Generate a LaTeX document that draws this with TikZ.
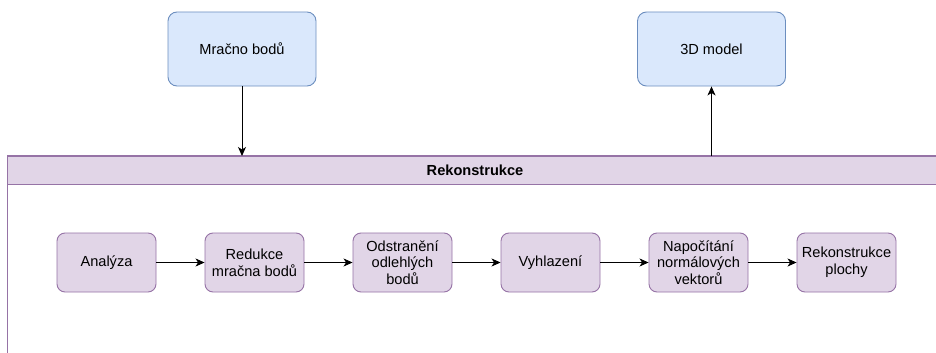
\documentclass[tikz,border=0pt]{standalone}
\usepackage{fontspec}
\setmainfont{Liberation Sans}
\usetikzlibrary{arrows.meta}
\definecolor{bluefill}{HTML}{DAE8FC}
\definecolor{bluedraw}{HTML}{6C8EBF}
\definecolor{purpfill}{HTML}{E1D5E7}
\definecolor{purpdraw}{HTML}{9673A6}
\tikzset{
  topbox/.style={draw=bluedraw, fill=bluefill, line width=0.9pt, rounded corners=9pt,
    minimum width=148pt, minimum height=74pt, inner sep=0pt, align=center,
    font=\fontsize{14.6}{16.8}\selectfont},
  stepbox/.style={draw=purpdraw, fill=purpfill, line width=0.9pt, rounded corners=8pt,
    minimum width=99pt, minimum height=59pt, inner sep=0pt, align=center,
    font=\fontsize{14.6}{16.6}\selectfont},
  conn/.style={line width=1pt, -{Stealth[length=9pt,width=8pt,inset=2.5pt]}},
}
\begin{document}
\begin{tikzpicture}[x=1pt,y=-1pt]
\useasboundingbox (0,0) rectangle (936,353);
\clip (0,0) rectangle (936,353);
% container
\draw[draw=purpdraw, line width=1.4pt, fill=white] (7.5,156) rectangle (960,420);
\draw[draw=purpdraw, line width=1.4pt, fill=purpfill] (7.5,156) rectangle (960,184.5);
\node[inner sep=0pt, minimum height=28.5pt, minimum width=20pt, font=\fontsize{14.6}{16.8}\selectfont\bfseries] (hdr) at (475,170.25) {Rekonstrukce};
\coordinate (ctop) at (475,156);
% top boxes
\node[topbox] (mb) at (242,49) {Mračno bodů};
\node[topbox] (tm) at (711.5,49) {3D model};
% steps
\node[stepbox] (s1) at (106.5,262.5) {Analýza};
\node[stepbox] (s2) at (254.5,262.5) {Redukce\\mračna bodů};
\node[stepbox] (s3) at (402.5,262.5) {Odstranění\\odlehlých\\bodů};
\node[stepbox] (s4) at (550.5,262.5) {Vyhlazení};
\node[stepbox] (s5) at (698.5,262.5) {Napočítání\\normálových\\vektorů};
\node[stepbox] (s6) at (846.5,262.5) {Rekonstrukce\\plochy};
% connectors
\draw[conn] (mb.south) -- (mb.south |- ctop);
\draw[conn] (tm.south |- ctop) -- (tm.south);
\draw[conn] (s1) -- (s2);
\draw[conn] (s2) -- (s3);
\draw[conn] (s3) -- (s4);
\draw[conn] (s4) -- (s5);
\draw[conn] (s5) -- (s6);
\end{tikzpicture}
\end{document}
